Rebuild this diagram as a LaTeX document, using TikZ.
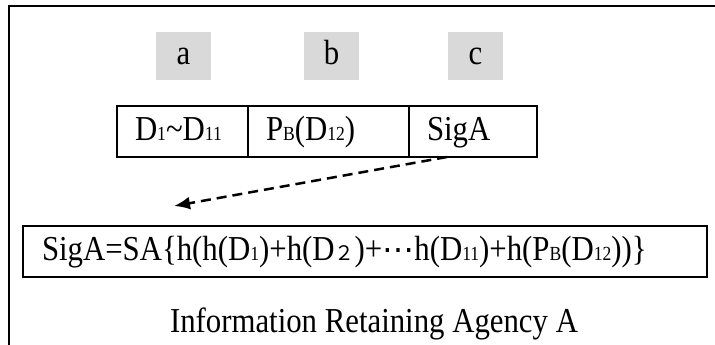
\documentclass[tikz,border=0pt]{standalone}
\usepackage{fontspec}
\setmainfont{Liberation Serif}[FakeStretch=0.88]
\newfontfamily\cjk{Noto Sans CJK SC}
\newfontfamily\dotsfont{DejaVu Sans}
\usepackage{tikz}
\usetikzlibrary{arrows.meta,shapes}
\usetikzlibrary{positioning}
\usetikzlibrary{calc}
\definecolor{tagfill}{RGB}{217,217,217}
\newcommand{\lowsub}[1]{{\fontsize{20}{20}\selectfont #1}}
\tikzset{
    tag/.style={fill=tagfill, minimum width=55pt, minimum height=48pt,
        inner sep=0pt, text height=24pt, text depth=7pt},
    cell/.style={draw=black, line width=1.5pt, minimum height=51pt, inner xsep=18pt,
        inner ysep=0pt, outer sep=0pt, text height=24pt, text depth=7pt, align=left},
    formula/.style={draw=black, line width=2pt, minimum height=51pt, inner xsep=19pt,
        inner ysep=0pt, text width=646pt, text height=24pt, text depth=7pt, align=left},
    dasharrow/.style={draw=black, line width=2.5pt, dash pattern=on 10pt off 6pt,
        -{Latex[length=16pt,width=13pt]}},
    frame/.style={draw=black, line width=2pt},
}

\begin{document}
\begin{tikzpicture}[x=1pt, y=-1pt, line width=1.5pt, font=\fontsize{35}{40}\selectfont]
\useasboundingbox (0,0) rectangle (715,345);
	\draw[frame] (9,345) -- (9,6) -- (715,6);
	% field tags
	\node[tag] (taga) at (183.5,56) {a};
	\node[tag] (tagb) at (331.5,56) {b};
	\node[tag] (tagc) at (475.5,56) {c};
	% message fields
	\node[cell, anchor=west, text width=95pt] (data) at (117,131.5) {D\lowsub{1}\textasciitilde D\lowsub{11}};
	\node[cell, anchor=west, text width=125pt, right=0pt of data] (enc) {P\lowsub{B}(D\lowsub{12})};
	\node[cell, anchor=west, text width=92pt, right=0pt of enc] (sig) {SigA};
	% signature
	\node[formula] (sign) at (365,251.5) {SigA=SA\{h(h(D\lowsub{1})+h(D{\cjk\lowsub{２}})+{\dotsfont\fontsize{32}{32}\selectfont ⋯}h(D\lowsub{11})+h(P\lowsub{B}(D\lowsub{12}))\}};
	\coordinate (tip) at (174,206);
	\draw[dasharrow] ($(sig.south west)+(38,0)$) -- (tip);
	\node[anchor=base] (agency) at (374,332) {Information Retaining Agency A};
\end{tikzpicture}
\end{document}
